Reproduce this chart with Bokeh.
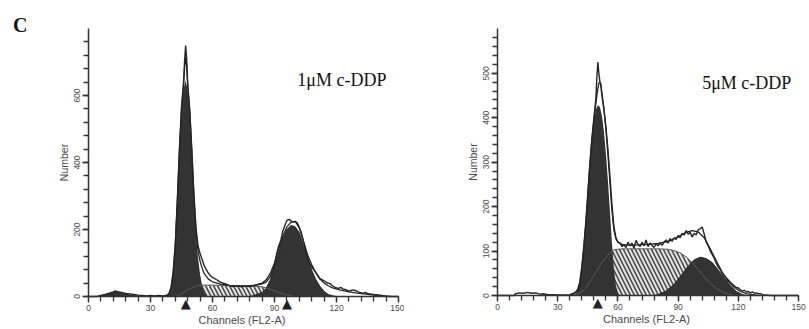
from bokeh.plotting import figure
from bokeh.layouts import row
from bokeh.models import Range1d, FixedTicker, Label, LabelSet, ColumnDataSource
from bokeh.core.properties import value
from bokeh.embed import file_html
from bokeh.resources import INLINE

# ---------------- data (channel, count) ----------------
x_major_ticks = [0, 30, 60, 90, 120, 150]
x_minor_ticks = [0, 6, 12, 18, 24, 30, 36, 42, 48, 54, 60, 66, 72, 78, 84, 90, 96,
                 102, 108, 114, 120, 126, 132, 138, 144, 150]
left_y_major = [0, 200, 400, 600]
left_y_minor = [0, 40, 80, 120, 160, 200, 240, 280, 320, 360, 400, 440, 480, 520,
                560, 600, 640, 680, 720, 760]
right_y_major = [0, 100, 200, 300, 400, 500]
right_y_minor = [0, 20, 40, 60, 80, 100, 120, 140, 160, 180, 200, 220, 240, 260, 280,
                 300, 320, 340, 360, 380, 400, 420, 440, 460, 480, 500, 520, 540, 560, 580]

panel_labels = ["1\u03bcM c-DDP", "5\u03bcM c-DDP"]
figure_letter = "C"
left_markers = [47, 96]
right_markers = [50]

# ---- 1 uM c-DDP ----
left_data = [(0,0),(4,0),(6,3),(8,6),(10,10),(12,14),(13,17),(14,14),(16,12),(18,9),(20,8),
             (22,6),(24,4),(26,3),(28,2),(30,3),(32,2),(34,3),(36,2),(38,4),(39,10),(40,28),
             (41,75),(42,158),(43,290),(44,440),(45,565),(46,640),(46.5,705),(47,749),
             (47.5,710),(48,635),(49,555),(50,435),(51,305),(52,205),(53,150),(54,128),
             (55,110),(56,92),(57,80),(58,70),(59,62),(60,57),(62,50),(64,42),(66,38),(68,33),
             (70,30),(72,32),(74,29),(76,31),(78,30),(80,33),(82,35),(84,38),(86,43),(88,60),
             (89,75),(90,95),(91,127),(92,150),(93,167),(94,195),(95,212),(96,227),(97,230),
             (98,226),(99,222),(100,224),(101,220),(102,205),(103,190),(104,165),(105,137),
             (106,115),(107,98),(108,88),(109,80),(110,72),(111,62),(112,53),(113,50),(114,47),
             (115,43),(116,40),(117,38),(118,32),(119,28),(120,26),(121,24),(122,27),(123,23),
             (124,21),(125,19),(126,16),(127,18),(128,20),(129,18),(130,15),(131,12),(132,11),
             (133,10),(134,12),(135,9),(136,8),(138,6),(140,5),(142,3),(144,1),(146,0),(150,0)]
left_fit = [(36,0),(38,3),(39,9),(40,26),(41,72),(42,154),(43,285),(44,435),(45,558),(46,632),
            (46.5,682),(47,715),(47.5,685),(48,628),(49,550),(50,430),(51,298),(52,195),
            (53,135),(54,105),(55,84),(56,68),(58,52),(60,44),(64,37),(68,33),(72,32),(76,31),
            (80,33),(84,40),(86,50),(88,70),(90,100),(92,140),(94,180),(96,208),(98,222),
            (100,224),(102,205),(104,165),(106,125),(108,95),(110,70),(112,52),(114,40),
            (116,32),(118,26),(122,19),(126,14),(130,10),(134,7),(138,4),(142,2),(146,0)]
left_g1 = [(38,0),(39,8),(40,25),(41,70),(42,150),(43,280),(44,430),(45,550),(46,620),(47,645),
           (48,615),(49,540),(50,420),(51,290),(52,185),(53,115),(54,65),(55,32),(56,12),
           (57,3),(58,0)]
left_s = [(42,0),(44,5),(46,12),(48,20),(50,26),(52,31),(55,34),(60,34),(65,33),(70,32),(75,32),
          (80,31),(84,29),(88,22),(92,12),(96,4),(100,0)]
left_g2 = [(78,0),(80,3),(84,12),(86,25),(88,50),(90,88),(92,130),(94,172),(96,200),(98,212),
           (100,208),(102,190),(104,150),(106,112),(108,78),(110,50),(112,30),(114,15),(116,6),
           (118,2),(120,0)]
left_debris = [(4,0),(7,4),(10,9),(13,16),(15,12),(18,8),(21,5),(24,3),(27,1),(29,0)]

# ---- 5 uM c-DDP ----
right_data = [(0,0),(8,0),(9,4),(11,6),(13,5),(15,7),(17,5),(19,6),(21,3),(23,4),(25,2),(28,2),
              (30,1),(33,1),(36,2),(38,5),(39,8),(40,14),(41,30),(42,64),(43,110),(44,165),
              (45,230),(46,296),(47,352),(48,398),(49,442),(49.5,490),(50,525),(50.5,500),
              (51,482),(51.5,472),(52,450),(53,420),(54,380),(55,330),(56,270),(57,205),
              (58,155),(59,130),(60,120),(61,118),(62,110),(63,114),(64,108),(65,120),(66,112),
              (67,118),(68,106),(69,124),(70,115),(71,110),(72,120),(73,112),(74,125),(75,110),
              (76,118),(77,113),(78,108),(79,116),(80,112),(81,118),(82,113),(83,120),(84,125),
              (85,118),(86,128),(87,122),(88,130),(89,126),(90,135),(91,130),(92,140),(93,136),
              (94,146),(95,138),(96,142),(97,132),(98,140),(99,136),(100,148),(101,150),
              (102,154),(103,138),(104,120),(105,112),(106,100),(107,92),(108,84),(109,72),
              (110,64),(111,58),(112,50),(113,45),(114,40),(115,35),(116,30),(117,26),(118,22),
              (119,18),(120,17),(121,13),(122,10),(123,12),(124,8),(125,9),(126,6),(127,8),
              (128,5),(129,6),(130,4),(131,4),(132,2),(134,1),(136,0),(150,0)]
right_fit = [(36,0),(38,3),(40,12),(41,28),(42,60),(43,106),(44,160),(45,226),(46,292),(47,348),
             (48,393),(49,432),(50,465),(50.5,478),(51,480),(51.5,476),(52,458),(53,422),
             (54,375),(55,318),(56,256),(57,192),(58,147),(59,128),(60,120),(62,115),(66,113),
             (70,114),(75,115),(80,117),(85,122),(90,132),(94,142),(97,146),(100,143),
             (103,130),(106,105),(109,78),(112,52),(115,32),(118,18),(121,9),(124,4),(127,2),
             (130,0)]
right_g1 = [(38,0),(39,4),(40,12),(41,28),(42,60),(43,105),(44,160),(45,225),(46,290),(47,345),
            (48,390),(49,418),(50,428),(51,424),(52,405),(53,370),(54,320),(55,260),(56,190),
            (57,120),(58,60),(59,22),(60,6),(61,0)]
right_s = [(38,0),(40,3),(42,8),(44,17),(46,30),(48,45),(50,60),(52,74),(54,86),(56,97),(58,103),
           (62,105),(70,105),(80,105),(85,104),(88,101),(91,96),(94,87),(97,74),(100,58),
           (103,42),(106,28),(109,16),(112,8),(115,3),(118,0)]
right_g2 = [(78,0),(80,2),(84,10),(88,25),(92,48),(95,66),(98,80),(101,86),(104,83),(107,74),
            (110,57),(113,40),(116,22),(119,9),(122,2),(124,0)]
right_debris = []

DARK = "#333333"
LINE = "#242424"
TXT = "#4a4a4a"


def xy(pairs):
    return [p[0] for p in pairs], [p[1] for p in pairs]


def make_panel(width, x_rng, y_rng, ymax, y_major, y_minor, data, fit, g1, s, g2, debris,
               markers, label, lx, ly, letter=None):
    # the frame fills the whole canvas; axes are pinned at 0 with fixed_location
    p = figure(width=width, height=329, output_backend="svg", toolbar_location=None,
               x_range=Range1d(*x_rng), y_range=Range1d(*y_rng),
               min_border=0, outline_line_color=None, background_fill_color="white",
               border_fill_color="white")
    p.grid.visible = False

    sx, sy = xy(s)
    p.varea(x=sx, y1=0, y2=sy, fill_color="#e2e2e2", hatch_pattern="\\",
            hatch_color="#474747", hatch_scale=8, hatch_weight=1.5)
    gx, gy = xy(g1)
    p.varea(x=gx, y1=0, y2=gy, fill_color=DARK)
    gx2, gy2 = xy(g2)
    p.varea(x=gx2, y1=0, y2=gy2, fill_color=DARK)
    if debris:
        dx, dy = xy(debris)
        p.varea(x=dx, y1=0, y2=dy, fill_color=DARK)
    p.line(sx, sy, line_color="#5a5a5a", line_width=1)
    p.line(gx2, gy2, line_color="#222222", line_width=1)
    fx, fy = xy(fit)
    p.line(fx, fy, line_color=LINE, line_width=1.3)
    ddx, ddy = xy(data)
    p.line(ddx, ddy, line_color=LINE, line_width=1.4)

    # axes
    p.xaxis.ticker = FixedTicker(ticks=x_major_ticks, minor_ticks=x_minor_ticks)
    p.yaxis.ticker = FixedTicker(ticks=y_major, minor_ticks=y_minor)
    p.xaxis.fixed_location = 0
    p.yaxis.fixed_location = 0
    p.xaxis.bounds = (0, 150)
    p.yaxis.bounds = (0, ymax)
    for ax in (p.xaxis[0], p.yaxis[0]):
        ax.axis_line_color = "#333333"
        ax.axis_line_width = 1.5
        ax.major_tick_line_color = "#333333"
        ax.minor_tick_line_color = "#333333"
        ax.major_tick_line_width = 1.3
        ax.minor_tick_line_width = 1.3
        ax.major_tick_in = 0
        ax.minor_tick_in = 0
        ax.major_tick_out = 6
        ax.minor_tick_out = 5
        ax.major_label_text_font = "Liberation Sans"
        ax.major_label_text_font_size = "8.5px"
        ax.major_label_text_color = TXT
        ax.axis_label_text_font = "Liberation Sans"
        ax.axis_label_text_font_style = "normal"
        ax.axis_label_text_color = TXT
    p.xaxis.axis_label = "Channels  (FL2-A)"
    p.xaxis.axis_label_text_font_size = "11px"
    p.xaxis.axis_label_standoff = 0
    p.xaxis.major_label_standoff = 2
    p.yaxis.axis_label = "Number"
    p.yaxis.axis_label_text_font_size = "10.5px"
    p.yaxis.axis_label_standoff = 2
    p.yaxis.major_label_standoff = 2
    p.yaxis.major_label_orientation = "vertical"

    src = ColumnDataSource(dict(x=markers, y=[0] * len(markers), t=["\u25b2"] * len(markers)))
    p.add_layout(LabelSet(x="x", y="y", text="t", source=src, text_align="center",
                          text_baseline="top", text_font=value("DejaVu Sans"),
                          text_font_size="13px", text_color="#222222", y_offset=1))

    p.add_layout(Label(x=lx, y=ly, text=label, text_font="Liberation Serif",
                       text_font_size="18px", text_color="#111111", text_baseline="alphabetic"))
    if letter:
        p.add_layout(Label(x=-36.5, y=810, text=letter, text_font="Liberation Serif",
                           text_font_style="bold", text_font_size="20px",
                           text_color="#111111", text_baseline="alphabetic"))
    return p


# left: channel 0 at x=88px, 2.067 px/channel; count 0 at y=296px, 0.335 px/count
p1 = make_panel(404, (-42.57, 152.88), (-98.5, 883.6), 800, left_y_major, left_y_minor,
                left_data, left_fit, left_g1, left_s, left_g2, left_debris, left_markers,
                panel_labels[0], 101, 645, letter=figure_letter)
# right: channel 0 at x=93px (local), 2.007 px/channel; count 0 at y=295px, 0.4444 px/count
p2 = make_panel(405, (-46.34, 155.46), (-76.5, 663.8), 600, right_y_major, right_y_minor,
                right_data, right_fit, right_g1, right_s, right_g2, right_debris,
                right_markers, panel_labels[1], 102, 479)

layout = row(p1, p2, spacing=0)
open("out.html", "w").write(file_html(layout, INLINE))
